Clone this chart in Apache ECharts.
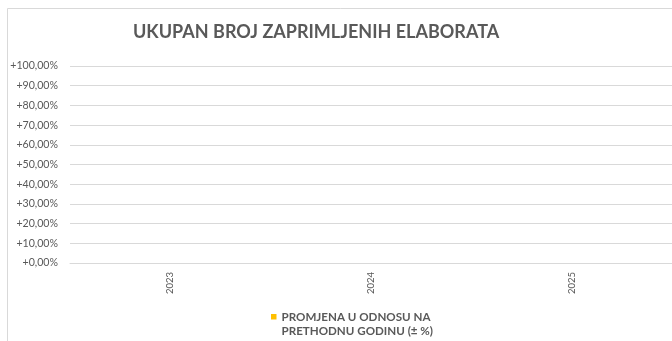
<!DOCTYPE html>
<html>
<head>
<meta charset="utf-8">
<script src="https://cdn.jsdelivr.net/npm/echarts@6/dist/echarts.min.js"></script>
<style>
  html, body { margin: 0; padding: 0; background: #ffffff; }
  #chart { width: 672px; height: 341px; }
</style>
</head>
<body>
<div id="chart"></div>
<script>
// Years on the category axis
const years = ['2023', '2024', '2025'];
// Year-over-year change (%), no values recorded yet
const changeValues = [null, null, null];
// Value axis range and step (%)
const yMin = 0;
const yMax = 100;
const yStep = 10;

const seriesName = 'PROMJENA U ODNOSU NA\nPRETHODNU GODINU (± %)';
const textGray = '#595959';
const gridGray = '#d9d9d9';
const fontFamily = 'Lato, "Open Sans", sans-serif';

function pct(v) {
  return '+' + v.toFixed(2).replace('.', ',') + '%';
}

const chart = echarts.init(document.getElementById('chart'), null, { renderer: 'canvas' });
chart.setOption({
  animation: false,
  backgroundColor: '#ffffff',
  textStyle: { fontFamily: fontFamily },
  graphic: [{
    type: 'rect',
    shape: { x: 7.5, y: 8.5, width: 700, height: 400 },
    style: { fill: 'none', stroke: gridGray, lineWidth: 1 },
    silent: true,
    z: -10
  }],
  title: {
    text: 'UKUPAN BROJ ZAPRIMLJENIH ELABORATA',
    left: 133,
    top: 23,
    padding: 0,
    textStyle: { color: textGray, fontSize: 18, fontWeight: 'bold', fontFamily: fontFamily }
  },
  legend: {
    left: 271,
    top: 295,
    padding: 0,
    itemWidth: 5.5,
    itemHeight: 5.5,
    itemGap: 4,
    icon: 'rect',
    data: [seriesName],
    // a leading blank line keeps the marker level with the first text line
    formatter: function (name) { return '\n' + name; },
    textStyle: {
      color: textGray,
      fontSize: 11.6,
      fontWeight: 'bold',
      fontFamily: fontFamily,
      lineHeight: 14.5
    }
  },
  grid: {
    left: 70,
    top: 66,
    width: 605,
    height: 197,
    containLabel: false
  },
  xAxis: {
    type: 'category',
    data: years,
    axisLine: { show: true, lineStyle: { color: gridGray, width: 1 } },
    axisTick: { show: false },
    axisLabel: {
      rotate: 90,
      color: textGray,
      fontSize: 9.5,
      fontFamily: fontFamily,
      margin: 9
    }
  },
  yAxis: {
    type: 'value',
    min: yMin,
    max: yMax,
    interval: yStep,
    axisLine: { show: false },
    axisTick: { show: false },
    splitLine: { show: true, lineStyle: { color: gridGray, width: 1 } },
    axisLabel: {
      color: textGray,
      fontSize: 10.6,
      fontFamily: fontFamily,
      margin: 12,
      formatter: pct
    }
  },
  series: [{
    name: seriesName,
    type: 'bar',
    data: changeValues,
    itemStyle: { color: '#ffc000' }
  }]
});
</script>
</body>
</html>
